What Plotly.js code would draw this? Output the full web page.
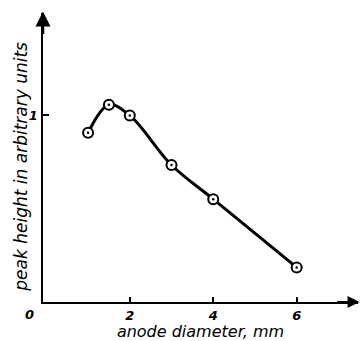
<!DOCTYPE html>
<html><head><meta charset="utf-8">
<script src="https://cdn.plot.ly/plotly-3.0.1.min.js"></script>
<style>html,body{margin:0;padding:0;background:#fff}#c{width:361px;height:341px}</style>
</head><body><div id="c"></div>
<script>
const anodeDiameter = [1, 1.5, 2, 3, 4, 6];
const peakHeight = [0.905, 1.055, 0.998, 0.733, 0.55, 0.185];
const xTickVals = [2, 4, 6];
const xTickText = ['2', '4', '6'];
const yTickVals = [1];
const yTickText = ['1'];
const xTitle = 'anode diameter, mm';
const yTitle = 'peak height in arbitrary units';

const fam = 'DejaVu Sans, sans-serif';
const tickFont = {family: fam, style: 'italic', weight: 'bold', size: 13, color: '#000'};

const traces = [
  {x: anodeDiameter, y: peakHeight, mode: 'lines+markers', type: 'scatter',
   line: {color: '#000', width: 3, shape: 'spline', smoothing: 1},
   marker: {size: 10, color: '#fff', line: {color: '#000', width: 2}},
   hoverinfo: 'none'},
  {x: anodeDiameter, y: peakHeight, mode: 'markers', type: 'scatter',
   marker: {size: 2.5, color: '#000'}, hoverinfo: 'none'}
];

const layout = {
  width: 361, height: 341,
  margin: {l: 43, r: 3, t: 13, b: 39},
  paper_bgcolor: '#fff', plot_bgcolor: '#fff',
  showlegend: false,
  font: {family: fam, color: '#000', size: 14},
  xaxis: {range: [-0.08, 7.47], showgrid: false, zeroline: false,
    showline: true, linecolor: '#000', linewidth: 2,
    tickvals: xTickVals, ticktext: xTickText, ticks: 'inside', ticklen: 5, tickwidth: 2, tickcolor: '#000',
    tickfont: tickFont,
    title: {text: xTitle, font: {family: fam, style: 'italic', size: 16, color: '#000'}, standoff: 3}},
  yaxis: {range: [0, 1.546], showgrid: false, zeroline: false,
    showline: true, linecolor: '#000', linewidth: 2.5,
    tickvals: yTickVals, ticktext: yTickText, ticks: 'inside', ticklen: 6, tickwidth: 2, tickcolor: '#000',
    tickfont: tickFont, ticklabelstandoff: 0},
  annotations: [
    {xref: 'paper', yref: 'paper', x: -0.071, y: 0.467, textangle: -90, xanchor: 'center', yanchor: 'middle',
     showarrow: false, text: yTitle, font: {family: fam, style: 'italic', size: 17, color: '#000'}},
    {xref: 'paper', yref: 'paper', x: 1.005, y: 0, ax: -24, ay: 0, showarrow: true, arrowhead: 2, arrowsize: 1.2, arrowwidth: 2, arrowcolor: '#000', text: ''},
    {xref: 'paper', yref: 'paper', x: 0, y: 1.005, ax: 0, ay: 24, showarrow: true, arrowhead: 2, arrowsize: 1.2, arrowwidth: 2.5, arrowcolor: '#000', text: ''},
    {xref: 'paper', yref: 'paper', x: -0.065, y: 0, yanchor: 'middle', yshift: -12, showarrow: false, text: '0', font: tickFont}
  ]
};
Plotly.newPlot('c', traces, layout, {staticPlot: true, displayModeBar: false});
</script></body></html>
